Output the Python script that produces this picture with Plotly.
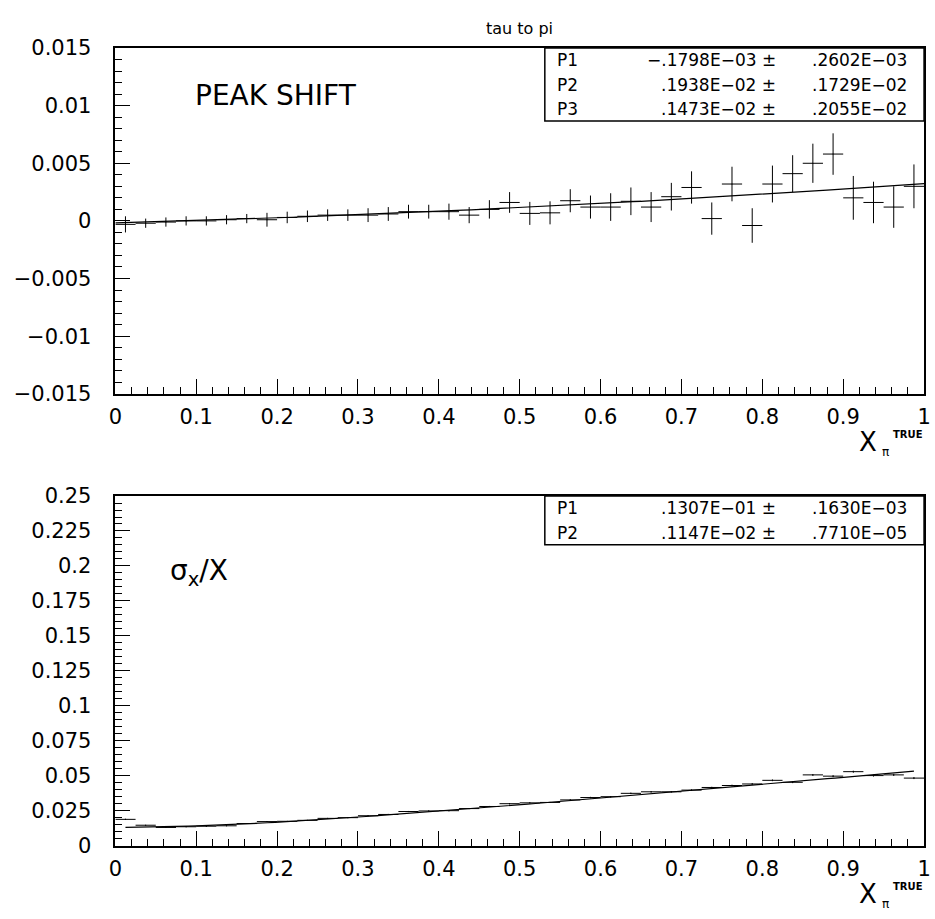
import plotly.graph_objects as go
import numpy as np

W, H = 935, 919

# ---------------- data ----------------
x_centers = [round(0.0125 + 0.025 * i, 4) for i in range(40)]
x_halfwidth = 0.0125

peak_shift = [-0.0003, -0.0002, -0.0001, 0.0000, 0.0000, 0.0001, 0.0002, 0.0001,
              0.0003, 0.0004, 0.0005, 0.0005, 0.0005, 0.0006, 0.0008, 0.0008,
              0.0008, 0.0005, 0.0010, 0.0016, 0.00065, 0.0007, 0.00175, 0.0012,
              0.0012, 0.0017, 0.0012, 0.0021, 0.0029, 0.0002, 0.0032, -0.0004,
              0.0032, 0.0041, 0.0050, 0.0058, 0.0020, 0.0016, 0.0012, 0.0030]
peak_shift_err = [0.0007, 0.0004, 0.0004, 0.0004, 0.0004, 0.0004, 0.0004, 0.0006,
                  0.0005, 0.0005, 0.0005, 0.0005, 0.0006, 0.0006, 0.0006, 0.0006,
                  0.0007, 0.0007, 0.0008, 0.0009, 0.0010, 0.0010, 0.0010, 0.0010,
                  0.0012, 0.0012, 0.0013, 0.0012, 0.0014, 0.0014, 0.0015, 0.0015,
                  0.0016, 0.0016, 0.0017, 0.0018, 0.0019, 0.0018, 0.0018, 0.0019]

sigma_over_x = [0.0188, 0.0146, 0.0130, 0.0135, 0.0139, 0.0142, 0.0158, 0.0172,
                0.0174, 0.0181, 0.0195, 0.0200, 0.0214, 0.0223, 0.0244, 0.0248,
                0.0250, 0.0265, 0.0280, 0.0300, 0.0306, 0.0309, 0.0327, 0.0344,
                0.0350, 0.0374, 0.0385, 0.0385, 0.0397, 0.0416, 0.0430, 0.0441,
                0.0467, 0.0453, 0.0506, 0.0497, 0.0529, 0.0501, 0.0506, 0.0483]
sigma_err = [0.0004, 0.0003, 0.0003, 0.0003, 0.0003, 0.0003, 0.0003, 0.0003,
             0.0003, 0.0003, 0.0003, 0.0003, 0.0003, 0.0004, 0.0004, 0.0004,
             0.0004, 0.0004, 0.0004, 0.0004, 0.0004, 0.0004, 0.0005, 0.0005,
             0.0005, 0.0005, 0.0005, 0.0005, 0.0005, 0.0005, 0.0006, 0.0006,
             0.0006, 0.0006, 0.0006, 0.0007, 0.0007, 0.0007, 0.0007, 0.0007]

# fit parameters (as printed in the stat boxes)
top_par_names = ["P1", "P2", "P3"]
top_par_vals = ["−.1798E−03 ±", ".1938E−02 ±", ".1473E−02 ±"]
top_par_errs = [".2602E−03", ".1729E−02", ".2055E−02"]
top_p = [-0.1798e-03, 0.1938e-02, 0.1473e-02]

bot_par_names = ["P1", "P2"]
bot_par_vals = [".1307E−01 ±", ".1147E−02 ±"]
bot_par_errs = [".1630E−03", ".7710E−05"]
bot_p = [0.1307e-01, 0.1147e-02]
E_BEAM = 45.6

# ---------------- helpers ----------------
def px(x):
    return x / W

def py(y):
    return 1 - y / H

XD = [px(110), px(931)]
TOP_D = [py(392), py(37)]
BOT_D = [py(856), py(497)]

FONT = "DejaVu Sans"

fig = go.Figure()

# top data
fig.add_trace(go.Scatter(
    x=x_centers, y=peak_shift, mode="markers",
    marker=dict(size=1, color="black"),
    error_x=dict(type="constant", value=x_halfwidth, width=0, thickness=1, color="black"),
    error_y=dict(type="data", array=peak_shift_err, width=0, thickness=1, color="black"),
    xaxis="x", yaxis="y", showlegend=False))
xf = np.linspace(0, 1, 101)
fig.add_trace(go.Scatter(
    x=xf, y=top_p[0] + top_p[1] * xf + top_p[2] * xf ** 2, mode="lines",
    line=dict(color="black", width=1.2), xaxis="x", yaxis="y", showlegend=False))

# bottom data
fig.add_trace(go.Scatter(
    x=x_centers, y=sigma_over_x, mode="markers",
    marker=dict(size=1, color="black"),
    error_x=dict(type="constant", value=x_halfwidth, width=0, thickness=1, color="black"),
    error_y=dict(type="data", array=sigma_err, width=0, thickness=1, color="black"),
    xaxis="x2", yaxis="y2", showlegend=False))
xb = np.linspace(x_centers[0], x_centers[-1], 101)
fig.add_trace(go.Scatter(
    x=xb, y=np.sqrt(bot_p[0] ** 2 + (bot_p[1] * E_BEAM * xb) ** 2), mode="lines",
    line=dict(color="black", width=1.2), xaxis="x2", yaxis="y2", showlegend=False))

axis_common = dict(
    showgrid=False, zeroline=False, showline=True, mirror=True,
    linecolor="black", linewidth=1.5, ticks="inside", ticklen=15, tickwidth=1,
    tickcolor="black", tickfont=dict(family=FONT, size=21, color="black"),
    ticklabeloverflow="allow",
)

fig.update_layout(
    width=W, height=H, margin=dict(l=0, r=0, t=0, b=0),
    paper_bgcolor="white", plot_bgcolor="white",
    xaxis=dict(domain=XD, anchor="y", range=[0, 1], dtick=0.1, tick0=0,
               minor=dict(dtick=0.02, ticklen=7, ticks="inside", tickcolor="black"),
               ticklabelstandoff=3, **axis_common),
    yaxis=dict(domain=TOP_D, anchor="x", range=[-0.015, 0.015], dtick=0.005, tick0=0,
               minor=dict(dtick=0.001, ticklen=7, ticks="inside", tickcolor="black"),
               ticklabelstandoff=18, **axis_common),
    xaxis2=dict(domain=XD, anchor="y2", range=[0, 1], dtick=0.1, tick0=0,
                minor=dict(dtick=0.02, ticklen=7, ticks="inside", tickcolor="black"),
                ticklabelstandoff=3, **axis_common),
    yaxis2=dict(domain=BOT_D, anchor="x2", range=[0, 0.25], dtick=0.025, tick0=0,
                minor=dict(dtick=0.005, ticklen=7, ticks="inside", tickcolor="black"),
                ticklabelstandoff=18, **axis_common),
)

anns = []
shapes = []

def text(x, y, s, size, xanchor="left", yanchor="middle", family=FONT):
    anns.append(dict(x=px(x), y=py(y), xref="paper", yref="paper", text=s,
                     showarrow=False, xanchor=xanchor, yanchor=yanchor,
                     font=dict(family=family, size=size, color="black")))

# title
text(520, 17, "tau to pi", 16, xanchor="center")

# stat boxes
def stat_box(top, names, vals, errs):
    n = len(names)
    bottom = top + 25 * n
    shapes.append(dict(type="rect", xref="paper", yref="paper",
                       x0=px(546), x1=px(931), y0=py(bottom), y1=py(top),
                       line=dict(color="black", width=1.5), fillcolor="white"))
    for i in range(n):
        yc = top + 12.5 + 25 * i
        text(556, yc, names[i], 17)
        text(783, yc, vals[i], 17, xanchor="right")
        text(916, yc, errs[i], 17, xanchor="right")

stat_box(37, top_par_names, top_par_vals, top_par_errs)
stat_box(497, bot_par_names, bot_par_vals, bot_par_errs)

# panel labels
text(189, 86, "PEAK SHIFT", 28)
text(163, 576, "σ<sub>x</sub>/X", 28)

# axis titles
for off in (0, 464):
    text(885, 442 + off, "X", 26, xanchor="right")
    text(886, 452 + off, "π", 12)
    text(897, 434 + off, "<b>TRUE</b>", 10)

fig.update_layout(annotations=anns, shapes=shapes)

post = ("document.body.style.margin='0';document.body.style.padding='0';"
        "document.documentElement.style.overflow='hidden';"
        "document.body.style.overflow='hidden';")
fig.write_html("out.html", post_script=post, config={"displayModeBar": False})
